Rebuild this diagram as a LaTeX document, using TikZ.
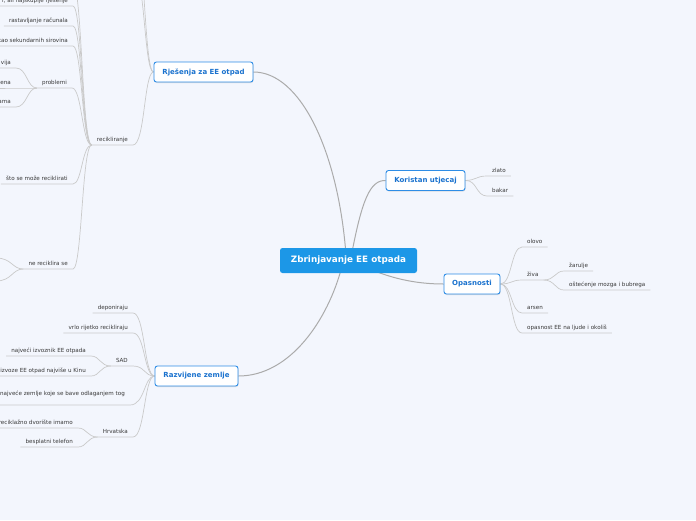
\documentclass[tikz,border=0pt]{standalone}
\usepackage{fontspec}
\setmainfont{DejaVu Sans}
\usetikzlibrary{shadows}
\definecolor{bgc}{HTML}{F3F6FD}
\definecolor{rootblue}{HTML}{1C97E7}
\definecolor{nodeblue}{HTML}{2E8DE6}
\definecolor{textblue}{HTML}{1A72CE}
\definecolor{mainline}{HTML}{ABABAB}
\definecolor{leafline}{HTML}{CACACA}
\definecolor{leaftext}{HTML}{383838}
\pgfdeclarelayer{back}
\pgfsetlayers{back,main}
\begin{document}
\begin{tikzpicture}[x=1pt,y=-1pt,
  rootnode/.style={fill=rootblue, rounded corners=2.5pt, text=white, font=\fontsize{8.8}{10}\selectfont\bfseries, minimum width=137pt, minimum height=25pt, inner sep=0pt},
  mainnode/.style={draw=nodeblue, line width=0.9pt, fill=white, rounded corners=2.5pt, text=textblue, font=\fontsize{7}{8}\selectfont\bfseries, minimum height=20pt, inner sep=0pt, drop shadow={shadow xshift=0.5pt, shadow yshift=-1pt, opacity=0.22}},
  leaf/.style={text=leaftext, font=\fontsize{5.6}{6.5}\selectfont, inner xsep=5pt, inner ysep=2pt, text height=4.2pt, text depth=1.5pt},
  mconn/.style={draw=mainline, line width=1pt},
  lconn/.style={draw=leafline, line width=0.7pt},
]
\useasboundingbox (0,0) rectangle (696,520);
\begin{pgfonlayer}{back}
\fill[bgc] (0,0) rectangle (696,520);
\end{pgfonlayer}

% main nodes
\node[rootnode] (root) at (348.5,260.5) {Zbrinjavanje EE otpada};
\node[mainnode, minimum width=99pt] (rj) at (203.5,72) {Rješenja za EE otpad};
\node[mainnode, minimum width=79pt] (ko) at (425.5,180.5) {Koristan utjecaj};
\node[mainnode, minimum width=56pt] (op) at (472,284) {Opasnosti};
\node[mainnode, minimum width=83pt] (rz) at (196.5,376) {Razvijene zemlje};

% Rjesenja branch
\node[leaf, anchor=south east] (recik) at (133,145) {recikliranje};
\coordinate (rjt1) at (133,-30);
\coordinate (rjt2) at (133,-70);
\coordinate (rtop) at (73,-16);
\node[leaf, anchor=south east] (l1) at (73,6) {i, ali najskuplje rješenje};
\node[leaf, anchor=south east] (l2) at (73,26) {rastavljanje računala};
\node[leaf, anchor=south east] (l3) at (73,46) {kao sekundarnih sirovina};
\node[leaf, anchor=south east] (prob) at (72,88) {problemi};
\node[leaf, anchor=south east] (p1) at (16,68) {vija};
\node[leaf, anchor=south east] (p2) at (16,88) {jena};
\node[leaf, anchor=south east] (p3) at (16,107) {ama};
\node[leaf, anchor=south east] (sto) at (73,184) {što se može reciklirati};
\node[leaf, anchor=south east] (nerec) at (73,269) {ne reciklira se};
\coordinate (nr1) at (-4,258);
\coordinate (nr2) at (-4,281);

% Koristan branch
\node[leaf, anchor=south west] (zlato) at (487,176) {zlato};
\node[leaf, anchor=south west] (bakar) at (487,196) {bakar};

% Opasnosti branch
\node[leaf, anchor=south west] (olovo) at (522,247) {olovo};
\node[leaf, anchor=south west] (ziva) at (522,280) {živa};
\node[leaf, anchor=south west] (zar) at (564,271) {žarulje};
\node[leaf, anchor=south west] (ost) at (564,290) {oštećenje mozga i bubrega};
\node[leaf, anchor=south west] (arsen) at (522,313) {arsen};
\node[leaf, anchor=south west] (opas) at (522,333) {opasnost EE na ljude i okoliš};

% Razvijene branch
\node[leaf, anchor=south east] (dep) at (133,313) {deponiraju};
\node[leaf, anchor=south east] (vrlo) at (133,333) {vrlo rijetko recikliraju};
\node[leaf, anchor=south east] (sad) at (133,366) {SAD};
\node[leaf, anchor=south east] (s1) at (91,356) {najveći izvoznik EE otpada};
\node[leaf, anchor=south east] (s2) at (91,376) {izvoze EE otpad najviše u Kinu};
\node[leaf, anchor=south east, text depth=7.5pt] (najv) at (130,405) {najveće zemlje koje se bave odlaganjem tog};
\node[leaf, anchor=south east] (hrv) at (133,437) {Hrvatska};
\node[leaf, anchor=south east] (h1) at (78,428) {reciklažno dvorište imamo};
\node[leaf, anchor=south east] (h2) at (78,447) {besplatni telefon};

\begin{pgfonlayer}{back}
% root connectors
\draw[mconn] ([xshift=-2.5pt,yshift=-7pt]root.north) .. controls (338,150) and (300,72) .. (rj.east);
\draw[mconn] ([xshift=3pt,yshift=-7pt]root.north) .. controls (362,200) and (370,180) .. (ko.west);
\draw[mconn] ([xshift=-6.5pt,yshift=7pt]root.south) .. controls (328,320) and (290,376) .. (rz.east);
\draw[mconn] ([xshift=19.5pt,yshift=5pt]root.south) .. controls (395,280) and (420,284) .. (op.west);

% Rjesenja children
\draw[lconn] (rj.west) .. controls (144,72) and (145,145) .. (recik.south east) -- (recik.south west);
\draw[lconn] (rj.west) .. controls (144,72) and (145,-30) .. (rjt1);
\draw[lconn] (rj.west) .. controls (144,72) and (145,-70) .. (rjt2);
\foreach \n/\yy in {l1/6, l2/26, l3/46, prob/88, sto/184, nerec/269}
  \draw[lconn] (recik.south west) .. controls (82,145) and (82,\yy) .. (\n.south east) -- (\n.south west);
\draw[lconn] (recik.south west) .. controls (82,145) and (82,-16) .. (rtop);
\foreach \n/\yy in {p1/68, p2/88, p3/107}
  \draw[lconn] (prob.south west) .. controls (27,88) and (27,\yy) .. (\n.south east) -- (\n.south west);
\draw[lconn] (nerec.south west) .. controls (12,269) and (12,258) .. (nr1);
\draw[lconn] (nerec.south west) .. controls (12,269) and (12,281) .. (nr2);

% Koristan children
\foreach \n/\yy in {zlato/176, bakar/196}
  \draw[lconn] (ko.east) .. controls (477,180) and (476,\yy) .. (\n.south west) -- (\n.south east);

% Opasnosti children
\foreach \n/\yy in {olovo/247, ziva/280, arsen/313, opas/333}
  \draw[lconn] (op.east) .. controls (512,284) and (511,\yy) .. (\n.south west) -- (\n.south east);
\foreach \n/\yy in {zar/271, ost/290}
  \draw[lconn] (ziva.south east) .. controls (555,280) and (555,\yy) .. (\n.south west) -- (\n.south east);

% Razvijene children
\foreach \n/\yy in {dep/313, vrlo/333, sad/366, najv/405, hrv/437}
  \draw[lconn] (rz.west) .. controls (144,376) and (145,\yy) .. (\n.south east) -- (\n.south west);
\foreach \n/\yy in {s1/356, s2/376}
  \draw[lconn] (sad.south west) .. controls (100,366) and (100,\yy) .. (\n.south east) -- (\n.south west);
\foreach \n/\yy in {h1/428, h2/447}
  \draw[lconn] (hrv.south west) .. controls (87,437) and (87,\yy) .. (\n.south east) -- (\n.south west);
\end{pgfonlayer}
\end{tikzpicture}
\end{document}
